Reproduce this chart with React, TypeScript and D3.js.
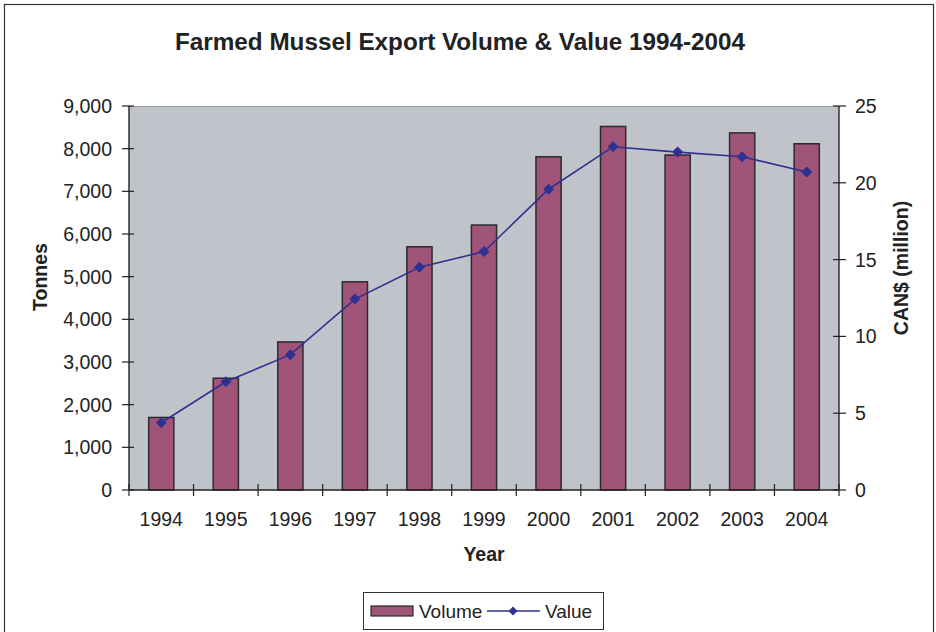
import React from 'react';
import * as d3 from 'd3';

const years = ['1994', '1995', '1996', '1997', '1998', '1999', '2000', '2001', '2002', '2003', '2004'];
const volume = [1700, 2620, 3470, 4880, 5700, 6210, 7810, 8520, 7850, 8370, 8115];
const value = [4.38, 7.05, 8.81, 12.43, 14.5, 15.52, 19.58, 22.35, 22.0, 21.7, 20.7];
const leftTicks = [0, 1000, 2000, 3000, 4000, 5000, 6000, 7000, 8000, 9000];
const rightTicks = [0, 5, 10, 15, 20, 25];

const W = 936;
const H = 632;
const PLOT = { left: 129, right: 839, top: 106, bottom: 490 };
const FONT = '"Liberation Sans", Arial, sans-serif';
const FS = 19.5;
const BAR_FILL = '#A05478';
const LINE = '#2E3192';

export default function App() {
  const x = d3.scaleBand<string>().domain(years).range([PLOT.left, PLOT.right]).paddingInner(0.61).paddingOuter(0.305);
  const step = (PLOT.right - PLOT.left) / years.length;
  const yL = d3.scaleLinear().domain([0, 9000]).range([PLOT.bottom, PLOT.top]);
  const yR = d3.scaleLinear().domain([0, 25]).range([PLOT.bottom, PLOT.top]);
  const cx = (d: string) => (x(d) ?? 0) + x.bandwidth() / 2;

  const line = d3
    .line<number>()
    .x((_, i) => cx(years[i]))
    .y((v) => yR(v));

  const diamond = (px: number, py: number, r = 5.5) =>
    `M${px},${py - r}L${px + r},${py}L${px},${py + r}L${px - r},${py}Z`;

  const fmt = d3.format(',');

  return (
    <svg width={W} height={H} style={{ position: 'absolute', left: 0, top: 0, fontFamily: FONT }}>
      <rect x={0} y={0} width={W} height={H} fill="#fff" />
      <rect x={4.5} y={4.5} width={929} height={H} fill="none" stroke="#333" strokeWidth={1.2} />

      <text
        x={460}
        y={50}
        textAnchor="middle"
        fontSize={23}
        fontWeight="bold"
        fill="#222"
        textLength={570}
        lengthAdjust="spacingAndGlyphs"
      >
        Farmed Mussel Export Volume &amp; Value 1994-2004
      </text>

      {/* plot area */}
      <rect x={PLOT.left} y={PLOT.top} width={PLOT.right - PLOT.left} height={PLOT.bottom - PLOT.top} fill="#C0C3CA" />
      <line x1={PLOT.left} x2={PLOT.right} y1={PLOT.top + 0.5} y2={PLOT.top + 0.5} stroke="#9a9da4" />

      {/* bars */}
      {years.map((yr, i) => (
        <rect
          key={yr}
          x={x(yr)}
          y={yL(volume[i])}
          width={x.bandwidth()}
          height={PLOT.bottom - yL(volume[i])}
          fill={BAR_FILL}
          stroke="#2b2b2b"
          strokeWidth={1.5}
        />
      ))}

      {/* value line */}
      <path d={line(value) ?? ''} fill="none" stroke={LINE} strokeWidth={1.6} />
      {value.map((v, i) => (
        <path key={i} d={diamond(cx(years[i]), yR(v))} fill={LINE} />
      ))}

      {/* left axis */}
      <line x1={PLOT.left} x2={PLOT.left} y1={PLOT.top} y2={PLOT.bottom} stroke="#222" strokeWidth={1.4} />
      {leftTicks.map((t) => (
        <g key={t}>
          <line x1={PLOT.left - 7} x2={PLOT.left + 5} y1={yL(t)} y2={yL(t)} stroke="#222" strokeWidth={1.2} />
          <text x={112} y={yL(t) + 7} textAnchor="end" fontSize={FS} fill="#222">
            {fmt(t)}
          </text>
        </g>
      ))}
      <text transform={`translate(47,277) rotate(-90)`} textAnchor="middle" fontSize={FS} fontWeight="bold" fill="#222">
        Tonnes
      </text>

      {/* right axis */}
      <line x1={PLOT.right} x2={PLOT.right} y1={PLOT.top} y2={PLOT.bottom} stroke="#222" strokeWidth={1.4} />
      {rightTicks.map((t) => (
        <g key={t}>
          <line x1={PLOT.right - 6} x2={PLOT.right + 7} y1={yR(t)} y2={yR(t)} stroke="#222" strokeWidth={1.2} />
          <text x={855} y={yR(t) + 7} textAnchor="start" fontSize={FS} fill="#222">
            {t}
          </text>
        </g>
      ))}
      <text transform={`translate(908,268) rotate(-90)`} textAnchor="middle" fontSize={FS} fontWeight="bold" fill="#222">
        CAN$ (million)
      </text>

      {/* bottom axis */}
      <line x1={PLOT.left} x2={PLOT.right} y1={PLOT.bottom} y2={PLOT.bottom} stroke="#222" strokeWidth={1.4} />
      {d3.range(years.length + 1).map((i) => (
        <line key={i} x1={PLOT.left + i * step} x2={PLOT.left + i * step} y1={PLOT.bottom - 6} y2={PLOT.bottom + 6} stroke="#222" strokeWidth={1.2} />
      ))}
      {years.map((yr) => (
        <text key={yr} x={cx(yr)} y={526} textAnchor="middle" fontSize={FS} fill="#222">
          {yr}
        </text>
      ))}
      <text x={(PLOT.left + PLOT.right) / 2} y={561} textAnchor="middle" fontSize={FS} fontWeight="bold" fill="#222">
        Year
      </text>

      {/* legend */}
      <rect x={363.5} y={592.5} width={240} height={37} fill="#fff" stroke="#333" strokeWidth={1} />
      <rect x={371} y={606} width={42} height={10} fill={BAR_FILL} stroke="#2b2b2b" strokeWidth={1.2} />
      <text x={419} y={618} fontSize={19} fill="#222">
        Volume
      </text>
      <line x1={487} x2={540} y1={611} y2={611} stroke={LINE} strokeWidth={1.6} />
      <path d={diamond(513, 611, 4.5)} fill={LINE} />
      <text x={545} y={618} fontSize={19} fill="#222">
        Value
      </text>
    </svg>
  );
}
